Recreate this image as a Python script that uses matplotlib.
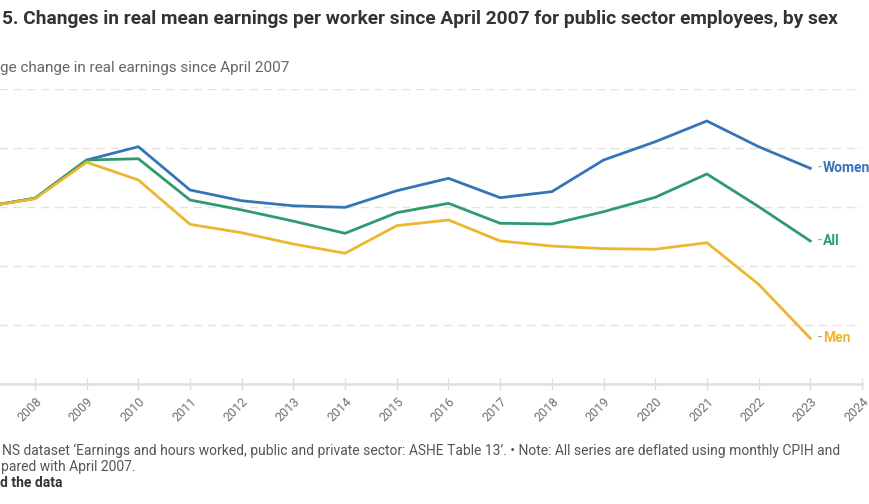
import numpy as np
import matplotlib
matplotlib.use("Agg")
import matplotlib.pyplot as plt

plt.rcParams['font.family'] = ['Roboto', 'DejaVu Sans']

# percentage change in real mean earnings since April 2007
years = [2007, 2008, 2009, 2010, 2011, 2012, 2013, 2014, 2015,
         2016, 2017, 2018, 2019, 2020, 2021, 2022, 2023]
women = [0.0, 0.74, 3.98, 5.11, 1.44, 0.53, 0.1, -0.03, 1.38,
         2.43, 0.79, 1.30, 3.98, 5.53, 7.29, 5.11, 3.28]
all_workers = [0.0, 0.74, 3.98, 4.09, 0.59, -0.25, -1.2, -2.23, -0.48,
               0.31, -1.38, -1.44, -0.40, 0.82, 2.80, 0.03, -2.88]
men = [0.0, 0.70, 3.79, 2.29, -1.47, -2.18, -3.14, -3.92, -1.58,
       -1.10, -2.88, -3.31, -3.53, -3.58, -3.03, -6.55, -11.13]

series_names = ["Women", "All", "Men"]
series_colors = ["#3674ba", "#2f9a6c", "#ecb72e"]
x_ticks = list(range(2008, 2025))
y_ticks = [-15, -10, -5, 0, 5, 10]

# the picture is cropped on the left: only the visible part of each text is kept
title = ("5. Changes in real mean earnings per worker since April 2007 "
         "for public sector employees, by sex")
subtitle = "ge change in real earnings since April 2007"
foot1 = ("NS dataset \u2018Earnings and hours worked, public and private sector: "
         "ASHE Table 13\u2019. \u2022 Note: All series are deflated using monthly CPIH and")
foot2 = "pared with April 2007."
foot3 = "d the data"

W, H = 869, 504
fig = plt.figure(figsize=(W / 100, H / 100), dpi=100)
fig.patch.set_facecolor("white")

# plot area: 2007 sits just off the left edge, 2024 at x=862
left_px, right_px, top_px, bottom_px = -16.7, 862, 89, 384
ax = fig.add_axes([left_px / W, 1 - bottom_px / H,
                   (right_px - left_px) / W, (bottom_px - top_px) / H])

for name, vals, col in zip(series_names, [women, all_workers, men], series_colors):
    ax.plot(years, vals, color=col, lw=2.0, solid_joinstyle="round", zorder=3)
    ax.annotate("-", xy=(years[-1], vals[-1]), xytext=(5, 0),
                textcoords="offset points", va="center", ha="left",
                color="#999999", fontsize=10)
    ax.annotate(name, xy=(years[-1], vals[-1]), xytext=(9, 0),
                textcoords="offset points", va="center", ha="left",
                color=col, fontsize=10, fontweight="bold")

ax.set_xlim(2007, 2024)
ax.set_ylim(-15, 10)
ax.set_xticks(x_ticks)
ax.set_xticklabels([str(y) for y in x_ticks], rotation=45, ha="right",
                   va="top", rotation_mode="anchor", color="#707070", fontsize=9)
ax.set_yticks(y_ticks)
ax.tick_params(axis="y", length=0, labelleft=False)
ax.tick_params(axis="x", direction="inout", length=8, width=1, color="#dddddd", pad=4)
ax.grid(axis="y", color="#e2e2e2", lw=1, linestyle=(0, (6, 4)))
ax.grid(axis="x", visible=False)
for s in ["top", "right", "left"]:
    ax.spines[s].set_visible(False)
ax.spines["bottom"].set_color("#e2e2e2")
ax.spines["bottom"].set_linewidth(2)
ax.set_facecolor("none")

fig.text(2 / W, 1 - 19 / H, title, ha="left", va="center",
         fontsize=13.75, fontweight="bold", color="#333333")
fig.text(0, 1 - 68 / H, subtitle, ha="left", va="center",
         fontsize=10.95, color="#666666")
fig.text(2 / W, 1 - 451 / H, foot1, ha="left", va="center",
         fontsize=10, color="#555555")
fig.text(1 / W, 1 - 467 / H, foot2, ha="left", va="center",
         fontsize=10, color="#555555")
fig.text(0, 1 - 483 / H, foot3, ha="left", va="center", fontsize=10,
         fontweight="bold", color="#333333")

fig.savefig("out.png", dpi=100)
